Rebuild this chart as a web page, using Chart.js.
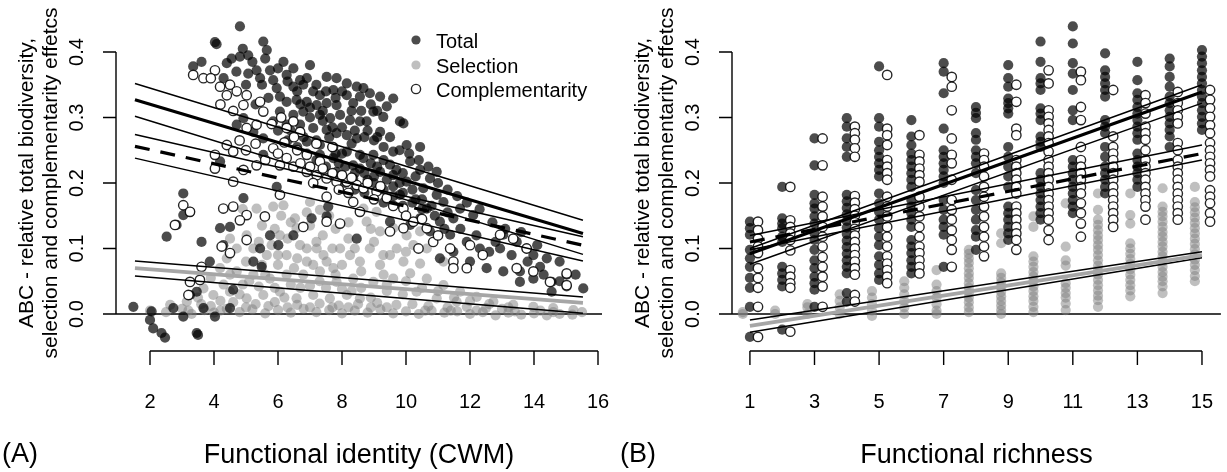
<!DOCTYPE html>
<html>
<head>
<meta charset="utf-8">
<script src="https://cdn.jsdelivr.net/npm/chart.js@4.4.0/dist/chart.umd.min.js"></script>
<style>
  body { margin: 0; background: #fff; }
  #wrap { position: relative; width: 1227px; height: 472px; }
  canvas { position: absolute; top: 0; }
  #panelA { left: 0; }
  #panelB { left: 614px; }
</style>
</head>
<body>
<div id="wrap">
  <canvas id="panelA" width="614" height="472"></canvas>
  <canvas id="panelB" width="613" height="472"></canvas>
</div>
<script>
// ---------- panel A: effects vs functional identity (CWM) ----------
const aTotal = [
  [4.81,0.439],[4.03,0.415],[4.08,0.412],[5.54,0.416],[5.65,0.403],[5.07,0.395],[4.81,0.393],[4.55,0.39],[4.40,0.383],
  [3.61,0.385],[3.35,0.378],[6.17,0.385],[6.48,0.375],[7.0,0.38],[5.07,0.367],[5.33,0.372],[5.44,0.36],[5.75,0.372],
  [5.85,0.357],[6.27,0.365],[6.69,0.357],[7.52,0.362],[7.83,0.36],[8.15,0.352],[8.46,0.347],[8.67,0.345],[5.96,0.345],
  [6.48,0.347],[6.79,0.35],[7.1,0.34],[7.31,0.334],[7.73,0.342],[8.15,0.334],[8.56,0.332],[6.06,0.332],[6.27,0.324],
  [6.58,0.327],[6.9,0.324],[7.21,0.319],[7.52,0.322],[7.83,0.319],[8.35,0.322],[7.31,0.304],[7.63,0.299],[7.94,0.304],
  [8.25,0.296],[8.56,0.294],[6.79,0.309],[6.48,0.304],[6.06,0.309],[5.85,0.294],[6.27,0.289],[6.69,0.289],[7.1,0.284],
  [7.52,0.281],[7.83,0.276],[8.15,0.273],[8.46,0.268],[4.92,0.299],[5.23,0.278],[4.71,0.289],[5.54,0.268],[6.9,0.263],
  [7.31,0.258],[7.73,0.255],[8.15,0.248],[8.56,0.243],[7.31,0.243],[7.73,0.238],[8.35,0.227],[8.56,0.222],[7.83,0.217],
  [8.35,0.207],[4.19,0.233],[5.54,0.243],[5.96,0.194],[4.92,0.177],[3.04,0.184],[3.25,0.156],[3.04,0.151],[2.83,0.136],
  [2.52,0.118],[4.19,0.131],[4.5,0.133],[3.61,0.11],[5.75,0.12],[6.01,0.105],[6.48,0.12],[7.05,0.146],[7.52,0.149],
  [7.57,0.164],[8.46,0.115],[5.44,0.1],[4.29,0.105],[3.87,0.08],[5.23,0.08],[5.49,0.072],[3.25,0.029],[3.46,0.034],
  [4.6,0.037],[1.48,0.011],[2.05,0.004],[2.73,0.009],[3.04,-0.004],[3.67,0.009],[4.03,-0.004],[4.5,0.009],[2.0,-0.009],
  [2.1,-0.022],[2.36,-0.029],[3.46,-0.029],[2.47,-0.036],[3.5,-0.032],
  [8.87,0.337],[9.19,0.332],[9.6,0.329],[9.4,0.317],[8.98,0.309],[8.77,0.294],[9.29,0.301],[9.81,0.294],[9.92,0.291],
  [9.19,0.278],[10.02,0.258],[10.44,0.255],[9.6,0.248],[8.98,0.243],[8.67,0.238],[10.13,0.233],[10.44,0.22],[10.96,0.217],
  [10.75,0.207],[9.19,0.217],[9.6,0.212],[10.02,0.202],[10.54,0.192],[10.96,0.182],[9.19,0.192],[9.81,0.182],[10.65,0.161],
  [11.17,0.171],[11.69,0.161],[12.1,0.151],[11.48,0.146],[11.06,0.141],[10.44,0.146],[10.13,0.136],[9.5,0.141],[10.75,0.126],
  [11.38,0.121],[11.9,0.11],[12.31,0.1],[12.6,0.095],[12.94,0.1],[13.04,0.121],[13.46,0.11],[13.77,0.1],[13.98,0.09],
  [14.4,0.085],[14.19,0.072],[12.52,0.07],[13.04,0.065],[13.56,0.065],[13.98,0.054],[13.56,0.049],[14.55,0.049],[14.55,0.034],
  [15.02,0.06],[15.02,0.042],[15.54,0.039],[12.0,0.08],[11.48,0.095],[11.06,0.085],
  [8.9,0.23],[9.1,0.225],[9.3,0.235],[9.5,0.228],[9.7,0.22],[9.9,0.215],[8.8,0.205],[9.0,0.2],[9.4,0.205],[9.6,0.195],
  [9.8,0.2],[10.2,0.19],[10.3,0.175],[9.9,0.165],[9.3,0.17],[8.7,0.185],[8.4,0.19],[8.1,0.2],[7.9,0.23],[8.0,0.245],
  [8.3,0.26],[8.7,0.27],[9.0,0.265],[9.3,0.255],[7.6,0.27],[7.2,0.265],[6.8,0.27],[6.4,0.28],[7.0,0.3],[7.4,0.31],
  [10.5,0.175],[10.8,0.165],[11.3,0.155],[10.3,0.21],
  [5.2,0.385],[5.6,0.39],[6.0,0.375],[6.3,0.355],[6.6,0.34],[6.9,0.36],[7.2,0.35],[7.5,0.34],[7.8,0.33],[8.0,0.34],
  [8.3,0.31],[8.6,0.31],[8.9,0.32],[9.1,0.31],[5.7,0.33],[5.5,0.35],[5.3,0.32],[5.0,0.35],[4.7,0.37],[4.3,0.36],
  [4.9,0.405],[6.7,0.32],[7.0,0.315],[7.4,0.295],[7.7,0.285],[8.0,0.285],[8.4,0.28],[8.8,0.28],[9.1,0.27],[9.5,0.27],
  [9.8,0.25],[10.1,0.245],[10.4,0.235],[10.7,0.225],[11.0,0.2],[11.3,0.19],[11.6,0.18],[11.9,0.17],[12.3,0.16],
  [12.7,0.14],[13.1,0.13],[13.6,0.125],[14.1,0.105],[14.8,0.08],[15.3,0.06],[6.0,0.28],[6.3,0.265],[6.6,0.255],
  [6.9,0.245],[7.2,0.235],[7.5,0.225],[7.8,0.245],[8.1,0.225],[8.4,0.215],[8.7,0.215],[9.0,0.21],[9.3,0.19],[9.6,0.18],
  [9.9,0.185],[10.2,0.17],[10.5,0.16],[10.9,0.15],[11.2,0.13],[11.7,0.13],[12.2,0.12],[12.8,0.11],[13.3,0.09],
  [13.8,0.08],[14.3,0.06],[14.8,0.05]
];
const aSelection = [
  [2.0,0.005],[2.5,0.003],[3.0,0.008],[3.3,0.0],[3.7,0.006],[4.0,0.002],[4.4,0.008],[4.8,0.003],[5.2,0.007],[5.6,0.001],
  [6.0,0.006],[6.4,0.002],[6.8,0.008],[7.2,0.003],[7.6,0.006],[8.0,0.001],[8.4,0.005],[8.8,0.002],[9.2,0.007],[9.6,0.001],
  [10.0,0.004],[10.4,0.0],[10.8,0.005],[11.2,0.002],[11.6,0.004],[12.0,0.0],[12.4,0.003],[12.8,-0.002],[13.2,0.002],
  [13.6,-0.001],[14.0,0.001],[14.4,-0.002],[14.8,0.0],[15.2,-0.001],
  [5.33,0.161],[5.85,0.164],[6.17,0.166],[6.53,0.146],[7.0,0.171],[7.31,0.159],[6.58,0.131],[6.06,0.12],[6.69,0.105],
  [7.21,0.1],[7.52,0.08],[7.73,0.07],[8.25,0.09],[8.56,0.08],[6.27,0.09],[5.65,0.09],[5.23,0.1],[4.71,0.1],[4.5,0.115],
  [5.02,0.12],[4.19,0.07],[4.71,0.065],[5.23,0.06],[5.75,0.054],[6.27,0.06],[6.79,0.06],[7.31,0.065],[7.83,0.049],
  [8.35,0.054],[3.67,0.039],[3.98,0.029],[4.5,0.034],[5.02,0.024],[5.54,0.029],[6.06,0.034],[6.58,0.024],[7.1,0.029],
  [7.62,0.024],[8.15,0.029],[8.56,0.024],[3.15,0.019],[2.63,0.014],[6.9,0.08],[7.42,0.09],[7.94,0.1],[6.9,0.1],
  [8.67,0.161],[9.08,0.156],[8.77,0.141],[9.19,0.126],[9.6,0.131],[10.02,0.12],[10.44,0.126],[8.87,0.1],[9.29,0.09],
  [9.92,0.08],[10.44,0.077],[9.19,0.075],[10.13,0.062],[10.65,0.054],[9.6,0.054],[8.98,0.049],[11.17,0.044],[11.69,0.034],
  [12.21,0.026],[10.33,0.034],[10.96,0.024],[11.58,0.019],[12.73,0.019],[13.35,0.014],[13.98,0.011],[14.6,0.009],
  [15.23,0.006],[9.71,0.1],[10.23,0.105],[10.65,0.1],[11.17,0.08],
  [4.3,0.045],[4.9,0.045],[5.4,0.042],[5.9,0.04],[6.4,0.045],[7.0,0.043],[7.5,0.04],[8.0,0.038],[8.6,0.04],[9.4,0.035],
  [9.9,0.03],[4.6,0.018],[5.3,0.015],[5.9,0.018],[6.6,0.014],[7.3,0.016],[7.9,0.013],[8.5,0.015],[9.1,0.017],[9.7,0.014],
  [10.2,0.015],[10.7,0.012],[11.3,0.01],[11.9,0.011],[12.5,0.009],[13.0,0.008],[3.9,0.055],[4.4,0.085],[5.0,0.08],
  [5.5,0.075],[6.0,0.075],[6.5,0.07],[7.1,0.075],[8.0,0.075],[8.6,0.065],[9.3,0.06],[5.8,0.105],[6.3,0.115],[7.4,0.12],
  [7.0,0.135],[5.5,0.135],[6.1,0.15],[4.9,0.16],[7.8,0.13],[8.2,0.115],[3.5,0.025],[3.9,0.012],[14.2,0.005],[15.5,0.003],
  [4.2,0.02],[4.8,0.03],[5.1,0.05],[5.6,0.06],[6.2,0.025],[6.7,0.04],[7.3,0.05],[7.8,0.06],[8.3,0.035],[8.9,0.025],
  [9.4,0.045],[10.0,0.05],[10.5,0.04],[11.0,0.035],[11.5,0.025],[12.0,0.02],[12.6,0.015],[13.2,0.01],[4.5,0.06],
  [5.4,0.11],[6.0,0.09],[6.6,0.085],[7.2,0.11],[7.7,0.1],[8.4,0.1],[9.0,0.11],[9.5,0.09],[10.0,0.095],[5.9,0.13],
  [6.4,0.14],[6.9,0.155],[7.6,0.15],[8.2,0.14],[8.9,0.13],[3.2,0.005],[3.6,0.015],[4.2,0.005],[5.0,0.01],[5.7,0.012],
  [6.3,0.01],[7.0,0.01],[7.7,0.01],[8.2,0.01],[8.9,0.01],[9.4,0.01],[10.6,0.005],[11.4,0.005],[12.2,0.005],[13.4,0.004],
  [14.6,0.003]
];
const aCompl = [
  [3.35,0.365],[3.67,0.36],[4.03,0.372],[4.19,0.347],[4.5,0.35],[4.4,0.334],[4.71,0.34],[5.02,0.334],[4.92,0.319],
  [5.44,0.324],[5.54,0.309],[5.02,0.284],[5.33,0.289],[6.48,0.294],[6.27,0.284],[6.69,0.278],[4.4,0.258],[4.6,0.248],
  [4.03,0.243],[4.03,0.222],[4.6,0.202],[4.92,0.22],[5.33,0.227],[6.06,0.227],[6.48,0.225],[6.9,0.217],[7.21,0.212],
  [7.52,0.207],[7.83,0.202],[8.15,0.202],[8.46,0.197],[6.06,0.182],[7.52,0.179],[8.35,0.171],[3.04,0.166],[3.25,0.156],
  [2.78,0.136],[4.29,0.161],[4.6,0.164],[5.02,0.151],[5.59,0.149],[4.81,0.143],[5.02,0.113],[4.24,0.103],[4.5,0.093],
  [6.79,0.133],[7.52,0.141],[7.94,0.138],[8.56,0.156],[3.61,0.072],[3.25,0.049],[3.56,0.052],[3.2,0.029],[5.85,0.253],
  [6.27,0.238],[6.9,0.243],[7.31,0.233],
  [8.67,0.192],[9.08,0.187],[9.4,0.177],[9.92,0.161],[10.23,0.141],[10.65,0.131],[9.92,0.131],[9.5,0.126],[10.39,0.1],
  [10.85,0.11],[11.38,0.1],[11.48,0.08],[11.9,0.07],[11.48,0.07],[12.94,0.121],[13.35,0.115],[13.77,0.1],[13.46,0.07],
  [13.98,0.065],[14.5,0.049],[15.02,0.062],[15.02,0.044],
  [7.0,0.225],[7.4,0.222],[7.7,0.215],[8.0,0.212],[8.3,0.208],[8.8,0.2],[9.2,0.195],[6.7,0.23],[7.1,0.2],[7.9,0.19],
  [8.2,0.185],[9.0,0.175],[9.6,0.165],[10.0,0.15],[10.5,0.145],[11.0,0.12],[12.0,0.105],[12.4,0.09],[5.3,0.26],[5.0,0.25],
  [4.8,0.265],[5.6,0.235],[6.0,0.245],[6.2,0.262],[6.6,0.25],
  [3.9,0.36],[4.2,0.32],[4.6,0.31],[5.8,0.29],[6.1,0.3],[6.5,0.27],[7.2,0.26],[7.7,0.255]
];
// fitted lines (ends) and confidence limits, panel A
const aLineX = [1.53, 15.53];
const aTotalFit = [0.327, 0.123];
const aTotalUp = [0.352, 0.143];
const aTotalLo = [0.302, 0.091];
const aComplFit = [0.256, 0.105];
const aComplUp = [0.274, 0.118];
const aComplLo = [0.238, 0.081];
const aSelFit = [0.070, 0.017];
const aSelUp = [0.081, 0.026];
const aSelLo = [0.058, 0.001];
const aXTicks = [2, 4, 6, 8, 10, 12, 14, 16];

// ---------- panel B: effects vs functional richness ----------
const richness = [1, 2, 3, 4, 5, 6, 7, 8, 9, 10, 11, 12, 13, 14, 15];
const bTotal = [
  [0.141,0.131,0.121,0.098,0.085,0.072,0.055,0.040,0.011,-0.035],
  [0.194,0.146,0.138,0.131,0.118,0.110,0.072,0.062,0.052,0.042,-0.024],
  [0.268,0.227,0.182,0.169,0.161,0.149,0.138,0.123,0.113,0.098,0.082,0.070,0.057,0.047,0.037,0.011],
  [0.299,0.286,0.268,0.255,0.240,0.182,0.172,0.162,0.152,0.142,0.132,0.122,0.112,0.102,0.092,0.082,0.072,0.062,0.032,0.019],
  [0.378,0.299,0.286,0.263,0.250,0.240,0.230,0.220,0.210,0.184,0.169,0.156,0.144,0.131,0.118,0.105,0.088,0.075,0.062,0.052],
  [0.296,0.271,0.258,0.245,0.235,0.225,0.215,0.205,0.194,0.174,0.164,0.154,0.144,0.133,0.113,0.103,0.093,0.082,0.072,0.062],
  [0.383,0.370,0.337,0.283,0.250,0.240,0.230,0.220,0.210,0.200,0.174,0.159,0.144,0.133,0.121,0.072],
  [0.316,0.307,0.299,0.276,0.266,0.250,0.240,0.230,0.215,0.189,0.174,0.159,0.144,0.128,0.118,0.098],
  [0.380,0.360,0.347,0.329,0.322,0.314,0.306,0.255,0.240,0.225,0.210,0.194,0.164,0.154,0.144,0.133,0.123,0.113],
  [0.416,0.385,0.360,0.352,0.342,0.314,0.306,0.296,0.271,0.263,0.255,0.215,0.205,0.194,0.184,0.174,0.164,0.154,0.144],
  [0.439,0.413,0.383,0.367,0.342,0.311,0.296,0.235,0.225,0.215,0.205,0.194,0.184,0.174,0.164,0.154],
  [0.398,0.372,0.362,0.352,0.342,0.332,0.296,0.286,0.276,0.255,0.240,0.225,0.215,0.205,0.194,0.184],
  [0.385,0.357,0.337,0.327,0.316,0.306,0.296,0.286,0.276,0.266,0.245,0.235,0.225,0.215,0.205,0.194],
  [0.390,0.378,0.362,0.347,0.332,0.322,0.311,0.301,0.291,0.281,0.271,0.255],
  [0.403,0.393,0.383,0.372,0.362,0.352,0.342,0.332,0.322,0.311,0.301,0.291,0.281]
];
const bSelection = [
  [0.0,0.003],
  [0.005,0.0],
  [0.015,0.01,0.0],
  [0.03,0.02,0.01,0.0],
  [0.035,0.025,0.015,0.005,-0.003],
  [0.05,0.04,0.03,0.02,0.01,0.0],
  [0.067,0.045,0.035,0.025,0.015,0.005,0.0],
  [0.098,0.092,0.085,0.078,0.07,0.062,0.055,0.047,0.04,0.032,0.025,0.018,0.01,0.003],
  [0.123,0.108,0.062,0.055,0.048,0.041,0.034,0.027,0.02,0.013,0.006,0.0],
  [0.149,0.133,0.088,0.08,0.072,0.064,0.057,0.05,0.042,0.035,0.027,0.02,0.011,0.003],
  [0.169,0.103,0.082,0.074,0.047,0.04,0.032,0.025,0.016,0.006],
  [0.184,0.159,0.144,0.136,0.128,0.12,0.113,0.105,0.098,0.09,0.082,0.074,0.067,0.06,0.052,0.044,0.036,0.028,0.021,0.011],
  [0.184,0.151,0.138,0.108,0.1,0.092,0.084,0.076,0.068,0.06,0.052,0.044,0.036,0.027],
  [0.192,0.164,0.156,0.149,0.141,0.133,0.125,0.118,0.11,0.103,0.095,0.088,0.08,0.072,0.064,0.057,0.05,0.042,0.032],
  [0.194,0.171,0.163,0.155,0.147,0.139,0.131,0.123,0.115,0.107,0.099,0.091,0.083,0.075,0.067,0.058,0.05]
];
const bCompl = [
  [0.141,0.128,0.115,0.103,0.093,0.070,0.055,0.040,0.011,-0.035],
  [0.194,0.143,0.133,0.123,0.113,0.097,0.067,0.057,0.047,0.040,-0.027],
  [0.268,0.227,0.179,0.164,0.149,0.133,0.118,0.103,0.087,0.072,0.057,0.042,0.011],
  [0.286,0.276,0.266,0.253,0.240,0.180,0.170,0.160,0.150,0.140,0.130,0.120,0.110,0.100,0.090,0.080,0.070,0.060,0.029,0.019],
  [0.365,0.283,0.273,0.258,0.235,0.225,0.215,0.205,0.179,0.164,0.149,0.133,0.118,0.103,0.088,0.077,0.067,0.057,0.047],
  [0.273,0.243,0.233,0.222,0.212,0.202,0.179,0.164,0.149,0.133,0.118,0.103,0.093,0.082,0.072,0.062],
  [0.362,0.347,0.311,0.268,0.243,0.230,0.205,0.174,0.159,0.144,0.128,0.113,0.098,0.072],
  [0.245,0.235,0.225,0.210,0.194,0.179,0.164,0.149,0.133,0.118,0.103,0.088],
  [0.350,0.324,0.283,0.273,0.235,0.225,0.215,0.205,0.194,0.184,0.164,0.154,0.144,0.133,0.123,0.113,0.098],
  [0.372,0.352,0.311,0.301,0.291,0.281,0.271,0.261,0.248,0.235,0.225,0.215,0.205,0.194,0.184,0.174,0.164,0.154,0.144,0.128,0.113],
  [0.370,0.357,0.316,0.296,0.255,0.235,0.225,0.215,0.205,0.194,0.184,0.169,0.154,0.138,0.118],
  [0.342,0.271,0.255,0.245,0.235,0.225,0.215,0.205,0.194,0.184,0.174,0.164,0.154,0.144,0.133],
  [0.334,0.322,0.306,0.286,0.276,0.266,0.250,0.235,0.225,0.215,0.205,0.194,0.184,0.174,0.164,0.144],
  [0.339,0.322,0.311,0.301,0.291,0.261,0.250,0.235,0.225,0.215,0.205,0.194,0.184,0.174,0.164,0.154,0.144],
  [0.342,0.327,0.314,0.301,0.288,0.276,0.261,0.250,0.240,0.230,0.220,0.210,0.189,0.179,0.169,0.154,0.141]
];
// side-by-side offsets of the three groups at each richness level
const bOffTotal = 0, bOffSel = -0.22, bOffCompl = 0.25;
const bLineX = [1, 15];
const bTotalFit = [0.092, 0.339];
const bTotalUp = [0.100, 0.350];
const bTotalLo = [0.076, 0.322];
const bComplFit = [0.110, 0.245];
const bComplUp = [0.120, 0.258];
const bComplLo = [0.098, 0.235];
const bSelFit = [-0.018, 0.090];
const bSelUp = [-0.009, 0.095];
const bSelLo = [-0.028, 0.086];
const bXTicks = [1, 3, 5, 7, 9, 11, 13, 15];

const yTicks = [0, 0.1, 0.2, 0.3, 0.4];
const yTitle1 = "ABC - relative total biodiversity,";
const yTitle2 = "selection and complementarity effetcs";

const FONT = '"Liberation Sans", Arial, Helvetica, sans-serif';
const COL_TOTAL = "rgba(0,0,0,0.7)";
const COL_SEL = "rgba(128,128,128,0.5)";
const COL_OPEN = "rgba(0,0,0,0.85)";

// R-like base graphics: detached axes, h = 0 line, titles, legend
const rStyle = {
  id: "rStyle",
  beforeDatasetsDraw(chart) {
    const { ctx, chartArea, scales } = chart;
    const y0 = scales.y.getPixelForValue(0);
    ctx.save();
    ctx.strokeStyle = "#000";
    ctx.lineWidth = 1.4;
    ctx.beginPath();
    ctx.moveTo(chartArea.left, y0);
    ctx.lineTo(chartArea.right, y0);
    ctx.stroke();
    ctx.restore();
  },
  afterDraw(chart, args, opts) {
    const { ctx, chartArea, scales: { x, y } } = chart;
    const left = chartArea.left, bottom = chartArea.bottom;
    const xt = opts.xTicks;
    ctx.save();
    ctx.strokeStyle = "#000";
    ctx.fillStyle = "#000";
    ctx.lineWidth = 1.4;

    // x axis
    ctx.beginPath();
    ctx.moveTo(x.getPixelForValue(xt[0]), bottom);
    ctx.lineTo(x.getPixelForValue(xt[xt.length - 1]), bottom);
    xt.forEach(v => {
      const px = x.getPixelForValue(v);
      ctx.moveTo(px, bottom);
      ctx.lineTo(px, bottom + 14);
    });
    // y axis
    ctx.moveTo(left, y.getPixelForValue(yTicks[0]));
    ctx.lineTo(left, y.getPixelForValue(yTicks[yTicks.length - 1]));
    yTicks.forEach(v => {
      const py = y.getPixelForValue(v);
      ctx.moveTo(left, py);
      ctx.lineTo(left - 13, py);
    });
    ctx.stroke();

    ctx.font = `20px ${FONT}`;
    ctx.textAlign = "center";
    ctx.textBaseline = "alphabetic";
    xt.forEach(v => ctx.fillText(String(v), x.getPixelForValue(v), bottom + 57));
    yTicks.forEach(v => {
      ctx.save();
      ctx.translate(left - 33, y.getPixelForValue(v));
      ctx.rotate(-Math.PI / 2);
      ctx.fillText(v.toFixed(1), 0, 0);
      ctx.restore();
    });

    // axis titles
    const midY = (chartArea.top + chartArea.bottom) / 2;
    ctx.font = `21px ${FONT}`;
    [[yTitle1, 83], [yTitle2, 59]].forEach(([t, d]) => {
      ctx.save();
      ctx.translate(left - d, midY);
      ctx.rotate(-Math.PI / 2);
      ctx.fillText(t, 0, 0);
      ctx.restore();
    });
    ctx.font = `27px ${FONT}`;
    ctx.fillText(opts.xTitle, (chartArea.left + chartArea.right) / 2, bottom + 112);
    ctx.textAlign = "left";
    ctx.fillText(opts.letter, opts.letterX, bottom + 111);

    // legend
    if (opts.legend) {
      const items = [["Total", COL_TOTAL, false, 48], ["Selection", COL_SEL, false, 73], ["Complementarity", COL_OPEN, true, 97]];
      ctx.font = `20px ${FONT}`;
      items.forEach(([label, col, open, base]) => {
        ctx.beginPath();
        ctx.arc(416, base - 8, 4.6, 0, Math.PI * 2);
        if (open) {
          ctx.fillStyle = "#fff";
          ctx.fill();
          ctx.strokeStyle = col;
          ctx.lineWidth = 1.4;
          ctx.stroke();
        } else {
          ctx.fillStyle = col;
          ctx.fill();
        }
        ctx.fillStyle = "#000";
        ctx.fillText(label, 436, base);
      });
    }
    ctx.restore();
  }
};

const pairs = arr => arr.map(([a, b]) => ({ x: a, y: b }));
const seg = (xs, ys) => xs.map((v, i) => ({ x: v, y: ys[i] }));
const cols = (groups, off) => richness.flatMap((r, i) => groups[i].map(v => ({ x: r + off, y: v })));

function pointSet(data, kind) {
  if (kind === "open") {
    return { data, order: 1, pointRadius: 4.7, pointBackgroundColor: "#fff",
      pointBorderColor: COL_OPEN, pointBorderWidth: 1.4 };
  }
  return { data, order: kind === "total" ? 2 : 3, pointRadius: 5.1,
    pointBackgroundColor: kind === "total" ? COL_TOTAL : COL_SEL, pointBorderWidth: 0 };
}

function lineSet(data, color, width, dash) {
  return { data, order: 0, showLine: true, pointRadius: 0, borderColor: color,
    borderWidth: width, borderDash: dash || [], borderCapStyle: "butt" };
}

function makeChart(id, datasets, xr, pad, rOpts) {
  return new Chart(document.getElementById(id), {
    type: "scatter",
    data: { datasets },
    options: {
      responsive: false,
      animation: false,
      events: [],
      layout: { padding: pad },
      plugins: { legend: { display: false }, tooltip: { enabled: false }, rStyle: rOpts },
      scales: {
        x: { type: "linear", min: xr[0], max: xr[1], display: false },
        y: { type: "linear", min: -0.05649, max: 0.45649, display: false }
      }
    },
    plugins: [rStyle]
  });
}

makeChart("panelA", [
  lineSet(seg(aLineX, aSelFit), "#a6a6a6", 3.8),
  lineSet(seg(aLineX, aSelUp), "#000", 1.5),
  lineSet(seg(aLineX, aSelLo), "#000", 1.5),
  lineSet(seg(aLineX, aTotalFit), "#000", 3.2),
  lineSet(seg(aLineX, aTotalUp), "#000", 1.5),
  lineSet(seg(aLineX, aTotalLo), "#000", 1.5),
  lineSet(seg(aLineX, aComplFit), "#000", 3.2, [15, 11]),
  lineSet(seg(aLineX, aComplUp), "#000", 1.5),
  lineSet(seg(aLineX, aComplLo), "#000", 1.5),
  pointSet(pairs(aCompl), "open"),
  pointSet(pairs(aTotal), "total"),
  pointSet(pairs(aSelection), "sel")
], [0.9375, 16.125], { left: 116, right: 12, top: 15, bottom: 121 },
  { xTicks: aXTicks, xTitle: "Functional identity (CWM)", letter: "(A)", letterX: 2, legend: true });

makeChart("panelB", [
  lineSet(seg(bLineX, bSelFit), "#a6a6a6", 3.8),
  lineSet(seg(bLineX, bSelUp), "#000", 1.5),
  lineSet(seg(bLineX, bSelLo), "#000", 1.5),
  lineSet(seg(bLineX, bTotalFit), "#000", 3.2),
  lineSet(seg(bLineX, bTotalUp), "#000", 1.5),
  lineSet(seg(bLineX, bTotalLo), "#000", 1.5),
  lineSet(seg(bLineX, bComplFit), "#000", 3.2, [15, 11]),
  lineSet(seg(bLineX, bComplUp), "#000", 1.5),
  lineSet(seg(bLineX, bComplLo), "#000", 1.5),
  pointSet(cols(bCompl, bOffCompl), "open"),
  pointSet(cols(bTotal, bOffTotal), "total"),
  pointSet(cols(bSelection, bOffSel), "sel")
], [0.445, 15.586], { left: 118, right: 4, top: 15, bottom: 121 },
  { xTicks: bXTicks, xTitle: "Functional richness", letter: "(B)", letterX: 6, legend: false });
</script>
</body>
</html>
